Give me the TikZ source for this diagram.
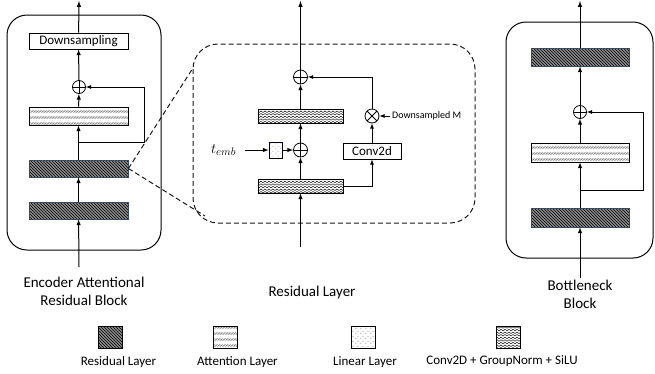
\documentclass[tikz,border=0pt]{standalone}
\usepackage{fontspec}
\setmainfont{Carlito}
\usetikzlibrary{patterns}

\definecolor{resedge}{HTML}{3A4A60}

\pgfdeclarepatternformonly{wavy}{\pgfqpoint{-1pt}{-1pt}}{\pgfqpoint{5pt}{4pt}}{\pgfqpoint{4pt}{2.6pt}}{%
  \pgfsetlinewidth{0.4pt}
  \pgfpathmoveto{\pgfqpoint{0pt}{1.3pt}}
  \pgfpathcurveto{\pgfqpoint{1pt}{2.4pt}}{\pgfqpoint{1pt}{2.4pt}}{\pgfqpoint{2pt}{1.3pt}}
  \pgfpathcurveto{\pgfqpoint{3pt}{0.2pt}}{\pgfqpoint{3pt}{0.2pt}}{\pgfqpoint{4pt}{1.3pt}}
  \pgfusepath{stroke}}
\pgfdeclarepatternformonly{attnhatch}{\pgfqpoint{-0.5pt}{-0.5pt}}{\pgfqpoint{2.1pt}{6.5pt}}{\pgfqpoint{1.6pt}{6pt}}{%
  \pgfsetlinewidth{0.35pt}
  \pgfpathmoveto{\pgfqpoint{0pt}{4.6pt}}
  \pgfpathlineto{\pgfqpoint{1.6pt}{2.4pt}}
  \pgfusepath{stroke}}
\pgfdeclarepatternformonly{sparsedots}{\pgfqpoint{0pt}{0pt}}{\pgfqpoint{5pt}{5pt}}{\pgfqpoint{5pt}{5pt}}{%
  \pgfpathcircle{\pgfqpoint{1pt}{1pt}}{0.5pt}
  \pgfpathcircle{\pgfqpoint{3.5pt}{3.2pt}}{0.5pt}
  \pgfusepath{fill}}

\begin{document}
\begin{tikzpicture}[>=latex,x=1pt,y=-1pt,
  reslayer/.style={draw=resedge,line width=0.8pt,inner sep=0pt,minimum width=99pt,minimum height=18pt,
    preaction={fill=black!45},pattern=north west lines},
  attnlayer/.style={draw,line width=0.8pt,inner sep=0pt,minimum width=99pt,minimum height=18pt,
    preaction={fill=white},pattern=attnhatch,pattern color=black!75},
  gnlayer/.style={draw,line width=0.8pt,inner sep=0pt,minimum width=85pt,minimum height=14pt,
    preaction={fill=white},pattern=wavy},
  linlayer/.style={draw,line width=0.8pt,inner sep=0pt,minimum width=13pt,minimum height=16pt,
    preaction={fill=white},pattern=sparsedots,pattern color=blue!70},
  textbox/.style={draw,line width=0.8pt,inner sep=0pt,font=\fontsize{13}{15}\selectfont},
  plus/.style={circle,draw,line width=0.8pt,inner sep=0pt,minimum size=13pt,
    path picture={\draw[line width=0.8pt] (path picture bounding box.north) -- (path picture bounding box.south)
      (path picture bounding box.west) -- (path picture bounding box.east);}},
  times/.style={circle,draw,line width=0.8pt,inner sep=0pt,minimum size=14pt,
    path picture={\draw[line width=0.8pt] (path picture bounding box.north west) -- (path picture bounding box.south east)
      (path picture bounding box.north east) -- (path picture bounding box.south west);}},
  title/.style={align=center,font=\fontsize{15}{18}\selectfont},
  keytext/.style={font=\fontsize{13}{15}\selectfont},
  zoomline/.style={dash pattern=on 5pt off 3pt,line width=1pt,color=black!90}]

\useasboundingbox (0,0) rectangle (655,373);

\draw[line width=1pt,rounded corners=20pt] (7,15) rectangle (161,250);
\draw[line width=1pt,rounded corners=20pt] (506,22) rectangle (653,258);
\draw[zoomline,rounded corners=25pt] (193,44) rectangle (475,223);

\node[textbox,minimum width=99pt,minimum height=16pt] (encdown) at (78.5,41) {Downsampling};
\node[plus] (encsum) at (79,87) {};
\node[attnlayer] (encatt) at (78.5,116) {};
\node[reslayer,minimum height=17pt] (encres1) at (78.5,168.5) {};
\node[reslayer,minimum height=17pt] (encres2) at (78.5,210.5) {};
\coordinate (encin) at (79,267);
\coordinate (encout) at (79,1);
\coordinate (encsplit) at (79,142);
\coordinate (encturn) at (144,87);

\draw[->,line width=1pt] (encin) -- (encres2);
\draw[->,line width=1pt] (encres2) -- (encres1);
\draw[->,line width=1pt] (encres1) -- (encatt);
\draw[->,line width=1pt] (encatt) -- (encsum);
\draw[->,line width=1pt] (encsum) -- (encdown);
\draw[->,line width=1pt] (encdown) -- (encout);
\draw[->,line width=0.8pt] (encsplit) -| (encturn) -- (encsum);

\coordinate (zoomtop) at (193,68);
\coordinate (zoombot) at (205,216);
\draw[zoomline] (encres1.east) -- (zoomtop);
\draw[zoomline] (encres1.east) -- (zoombot);

\node[plus,minimum size=14pt] (ressum) at (300.5,77) {};
\node[gnlayer] (resgn2) at (300.5,116) {};
\node[plus,minimum size=14pt] (restime) at (300.5,150) {};
\node[linlayer] (reslin) at (275.5,150) {};
\node[inner xsep=9pt] (temb) at (223.5,150) {\fontsize{15}{18}\selectfont$t_{emb}$};
\node[gnlayer] (resgn1) at (300.5,186) {};
\node[textbox,minimum width=58pt,minimum height=16pt] (resconv) at (372,151) {Conv2d};
\node[times] (resmask) at (372,116) {};
\node[anchor=west,inner sep=2pt,font=\fontsize{10}{12}\selectfont] (resnote) at (390,116) {Downsampled M};
\coordinate (resin) at (300.5,247);
\coordinate (resout) at (300.5,1);

\draw[->,line width=1pt] (resin) -- (resgn1);
\draw[->,line width=1pt] (resgn1) -- (restime);
\draw[->,line width=1pt] (temb) -- (reslin);
\draw[->,line width=1pt] (reslin) -- (restime);
\draw[->,line width=1pt] (restime) -- (resgn2);
\draw[->,line width=1pt] (resgn2) -- (ressum);
\draw[->,line width=1pt] (ressum) -- (resout);
\draw[->,line width=0.8pt] (resgn1) -| (resconv);
\draw[->,line width=0.8pt] (resconv) -- (resmask);
\draw[->,line width=0.8pt] (resnote) -- (resmask);
\draw[->,line width=0.8pt] (resmask) |- (ressum);

\node[reslayer,minimum width=98pt] (botres1) at (580,57) {};
\node[plus] (botsum) at (580,112) {};
\node[attnlayer,minimum width=98pt,minimum height=19pt] (botatt) at (580,152.5) {};
\node[reslayer,minimum width=98pt,minimum height=19pt] (botres2) at (580,217.5) {};
\coordinate (botin) at (580,278);
\coordinate (botout) at (580,1);
\coordinate (botsplit) at (580,190);
\coordinate (botturn) at (643,112);

\draw[->,line width=1pt] (botin) -- (botres2);
\draw[->,line width=1pt] (botres2) -- (botatt);
\draw[->,line width=1pt] (botatt) -- (botsum);
\draw[->,line width=1pt] (botsum) -- (botres1);
\draw[->,line width=1pt] (botres1) -- (botout);
\draw[->,line width=0.8pt] (botsplit) -| (botturn) -- (botsum);

\node[title] (enclabel) at (84,291) {Encoder Attentional\\Residual Block};
\node[title] (reslabel) at (312,292) {Residual Layer};
\node[title] (botlabel) at (580,294) {Bottleneck\\Block};

\node[reslayer,minimum width=24pt,minimum height=22pt,draw=black] (keyres) at (110,337) {};
\node[attnlayer,minimum width=24pt,minimum height=22pt] (keyatt) at (225.5,337) {};
\node[linlayer,minimum width=24pt,minimum height=22pt,pattern color=black] (keylin) at (363,337) {};
\node[gnlayer,minimum width=24pt,minimum height=22pt] (keygn) at (508,337) {};

\node[keytext] (keyreslabel) at (118.5,362) {Residual Layer};
\node[keytext] (keyattlabel) at (237.5,362) {Attention Layer};
\node[keytext] (keylinlabel) at (365,362) {Linear Layer};
\node[keytext] (keygnlabel) at (502,361) {Conv2D + GroupNorm + SiLU};

\end{tikzpicture}
\end{document}
